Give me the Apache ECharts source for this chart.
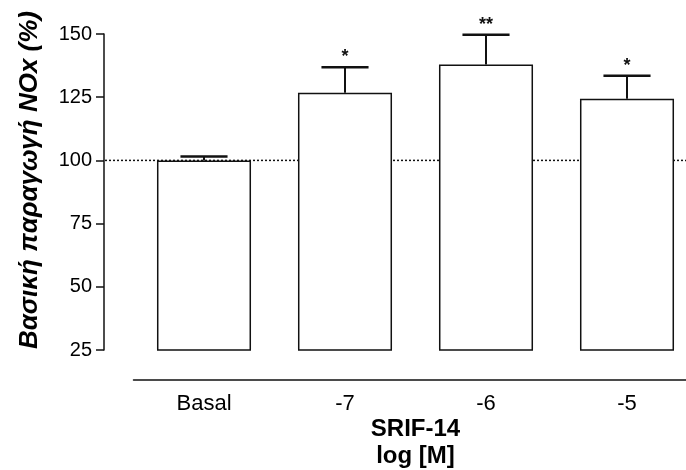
<!DOCTYPE html>
<html>
<head>
<meta charset="utf-8">
<script src="https://cdn.jsdelivr.net/npm/echarts@6/dist/echarts.min.js"></script>
<style>
  html, body { margin: 0; padding: 0; background: #fff; }
  #chart { width: 686px; height: 470px; }
</style>
</head>
<body>
<div id="chart"></div>
<script>
// τιμές διαβασμένες από το γράφημα
const categories = ['Basal', '-7', '-6', '-5'];
const means = [100, 126.8, 137.9, 124.4];
const sem = [1.5, 10.0, 11.8, 9.1];
const stars = ['', '*', '**', '*'];
const yTicks = [25, 150, 25]; // min, max, interval
const baseline = [100, 100];

const ink = '#111';
const font = '"Liberation Sans", Arial, sans-serif';

const chart = echarts.init(document.getElementById('chart'));

// μπάρες σφάλματος + αστερίσκοι
function renderError(params, api) {
  const i = api.value(0);
  const top = api.coord([i, api.value(1) + api.value(2)]);
  const base = api.coord([i, api.value(1)]);
  const half = api.size([1, 0])[0] * 0.167;
  return {
    type: 'group',
    children: [
      { type: 'line', shape: { x1: base[0], y1: base[1], x2: top[0], y2: top[1] },
        style: { stroke: ink, lineWidth: 2 } },
      { type: 'line', shape: { x1: top[0] - half, y1: top[1], x2: top[0] + half, y2: top[1] },
        style: { stroke: ink, lineWidth: 2.5 } },
      { type: 'text', style: { text: stars[i], x: top[0], y: top[1] - 10,
        textAlign: 'center', textVerticalAlign: 'middle',
        font: 'bold 18px ' + font, fill: ink } }
    ]
  };
}

chart.setOption({
  animation: false,
  grid: [
    { left: 133.5, width: 564, top: 34, height: 316, outerBoundsMode: 'none' },
    { left: 105, right: 0, top: 34, height: 316, outerBoundsMode: 'none' }
  ],
  xAxis: [{
    type: 'category',
    gridIndex: 0,
    data: categories,
    offset: 29.5,
    axisLine: { lineStyle: { color: ink, width: 1.5 } },
    axisTick: { show: false },
    axisLabel: { color: '#000', fontSize: 22, fontFamily: font, margin: 13 },
    name: 'SRIF-14\nlog [M]',
    nameLocation: 'middle',
    nameGap: 36,
    nameMoveOverlap: false,
    nameTextStyle: { color: '#000', fontSize: 24, fontWeight: 'bold', fontFamily: font, lineHeight: 27 }
  }, {
    type: 'value', gridIndex: 1, min: 0, max: 1, show: false
  }],
  yAxis: [{
    type: 'value',
    gridIndex: 0,
    min: yTicks[0],
    max: yTicks[1],
    interval: yTicks[2],
    offset: 29.5,
    axisLine: { show: true, lineStyle: { color: ink, width: 1.5 } },
    axisTick: { show: true, length: 8, lineStyle: { color: ink, width: 1.5 } },
    axisLabel: { color: '#000', fontSize: 20, fontFamily: font, margin: 12 },
    splitLine: { show: false },
    name: 'Βασική παραγωγή NOx (%)',
    nameLocation: 'middle',
    nameGap: 61,
    nameMoveOverlap: false,
    nameTextStyle: { color: '#000', fontSize: 26, fontWeight: 'bold', fontStyle: 'italic',
      fontFamily: font, padding: [0, 0, 0, 24] }
  }, {
    type: 'value', gridIndex: 1, min: yTicks[0], max: yTicks[1], show: false
  }],
  series: [{
    type: 'line',
    xAxisIndex: 1,
    yAxisIndex: 1,
    z: 1,
    data: baseline.map((v, i) => [i, v]),
    symbol: 'none',
    lineStyle: { color: ink, width: 1.5, type: [2, 2] },
    silent: true
  }, {
    type: 'bar',
    xAxisIndex: 0,
    yAxisIndex: 0,
    z: 2,
    data: means,
    barWidth: '66.7%',
    itemStyle: { color: '#fff', borderColor: ink, borderWidth: 1.5 }
  }, {
    type: 'custom',
    xAxisIndex: 0,
    yAxisIndex: 0,
    z: 3,
    renderItem: renderError,
    data: means.map((m, i) => [i, m, sem[i]])
  }]
});
</script>
</body>
</html>
